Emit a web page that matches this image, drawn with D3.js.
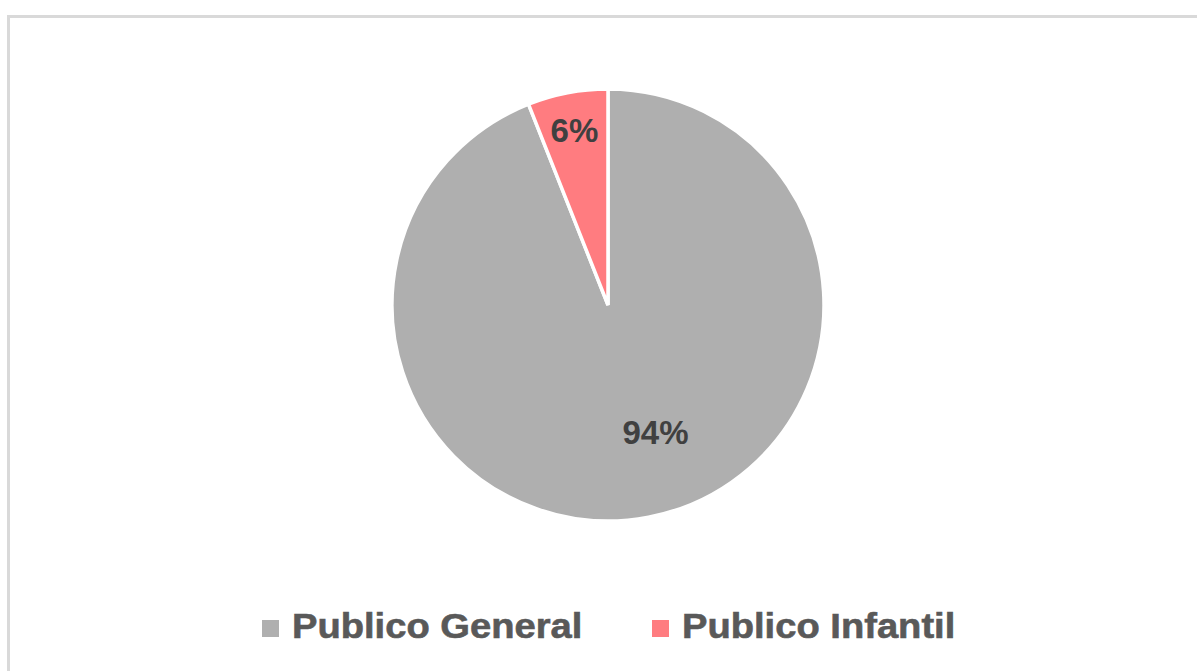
<!DOCTYPE html>
<html>
<head>
<meta charset="utf-8">
<script src="https://cdn.jsdelivr.net/npm/d3@7"></script>
<style>
  html, body { margin: 0; padding: 0; background: #ffffff; }
  svg { display: block; }
</style>
</head>
<body>
<svg id="chart" width="1197" height="671"></svg>
<script>
// ---- data ----
const categories = ["Publico General", "Publico Infantil"];
const values = [94, 6];
const labels = ["94%", "6%"];
const colors = ["#afafaf", "#ff7c80"];

// ---- layout ----
const W = 1197, H = 671;
const cx = 608, cy = 305, R = 216;
const svg = d3.select("#chart");

// outer frame
svg.append("rect")
  .attr("x", 8.5).attr("y", 16.5)
  .attr("width", 1400).attr("height", 1000)
  .attr("fill", "#ffffff")
  .attr("stroke", "#d9d9d9").attr("stroke-width", 3);

const data = categories.map((c, i) => ({ cat: c, value: values[i], label: labels[i], color: colors[i] }));

const pie = d3.pie().sort(null).value(d => d.value).startAngle(0).endAngle(2 * Math.PI);
const arcs = pie(data);
const arc = d3.arc().innerRadius(0).outerRadius(R);

const g = svg.append("g").attr("transform", `translate(${cx},${cy})`);

g.selectAll("path.slice")
  .data(arcs)
  .join("path")
  .attr("class", "slice")
  .attr("d", arc)
  .attr("fill", d => d.data.color)
  .attr("stroke", "#ffffff")
  .attr("stroke-width", 3.5)
  .attr("stroke-linejoin", "miter");

// data labels (best-fit style placement)
const labelRadius = [0.63, 0.83];
const labelNudge = [[22, -6], [0, 2]];
g.selectAll("text.lbl")
  .data(arcs)
  .join("text")
  .attr("class", "lbl")
  .attr("transform", (d, i) => {
    const a = (d.startAngle + d.endAngle) / 2;
    const r = R * labelRadius[i];
    const x = Math.sin(a) * r + labelNudge[i][0];
    const y = -Math.cos(a) * r + labelNudge[i][1];
    return `translate(${x},${y})`;
  })
  .attr("text-anchor", "middle")
  .attr("dy", "0.35em")
  .attr("font-family", "'Liberation Sans', Arial, sans-serif")
  .attr("font-weight", "bold")
  .attr("font-size", 33)
  .attr("fill", "#404040")
  .text(d => d.data.label);

// legend
const legendX = [262, 652];
const legend = svg.append("g");
const items = legend.selectAll("g.item")
  .data(data)
  .join("g")
  .attr("class", "item")
  .attr("transform", (d, i) => `translate(${legendX[i]},620)`);

items.append("rect")
  .attr("x", 0).attr("y", 0)
  .attr("width", 17).attr("height", 17)
  .attr("fill", d => d.color);

items.append("text")
  .attr("transform", "translate(30,18) scale(1.09,1)")
  .attr("font-family", "'Liberation Sans', Arial, sans-serif")
  .attr("font-weight", "bold")
  .attr("font-size", 35)
  .attr("stroke", "#595959")
  .attr("stroke-width", 0.6)
  .attr("fill", "#595959")
  .text(d => d.cat);
</script>
</body>
</html>
